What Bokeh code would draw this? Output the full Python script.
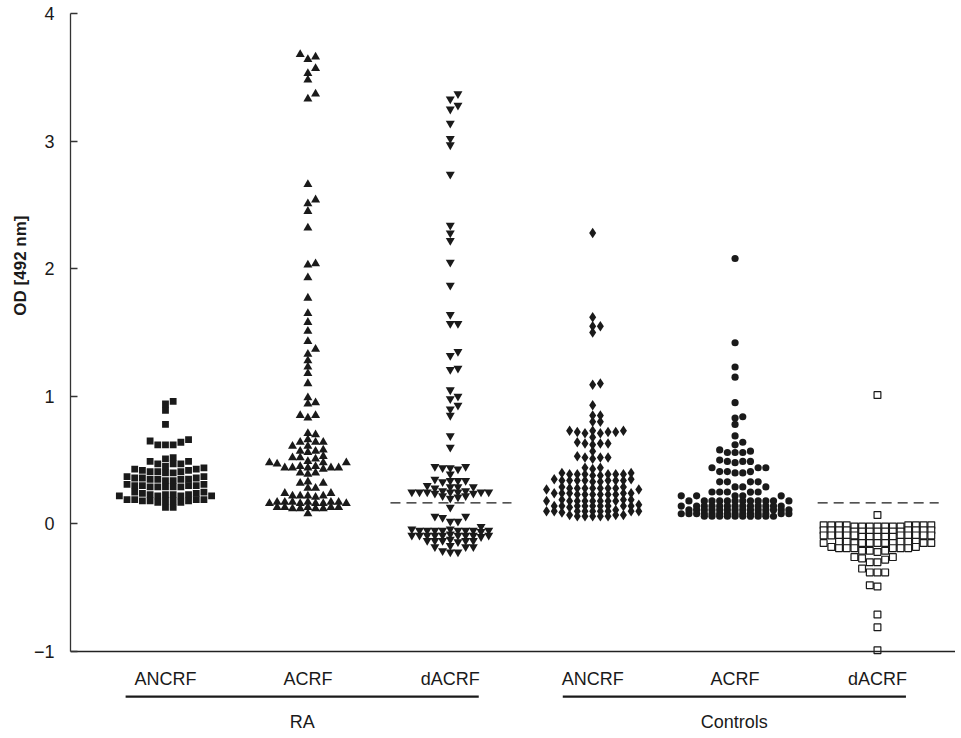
import numpy as np
from bokeh.plotting import figure
from bokeh.models import Range1d, FixedTicker, ColumnDataSource, Title
from bokeh.embed import file_html
from bokeh.resources import INLINE
from bokeh.core.properties import value

# ---------------- data ----------------
categories = ["ANCRF", "ACRF", "dACRF", "ANCRF", "ACRF", "dACRF"]
group_names = ["RA", "Controls"]
group_first = [0, 3]
group_last = [2, 5]
cutoff_value = 0.165
cutoff_columns = [2, 5]
y_ticks = [-1, 0, 1, 2, 3, 4]
y_title = "OD [492 nm]"

ra_ancrf = [0.96, 0.94, 0.89, 0.78,
            0.65, 0.62, 0.62, 0.62, 0.64, 0.66,
            0.51, 0.49, 0.47, 0.47, 0.47, 0.49, 0.52,
            0.45, 0.43, 0.42, 0.41, 0.41, 0.40, 0.40, 0.41, 0.42, 0.43, 0.44,
            0.37, 0.36, 0.35, 0.36, 0.35, 0.34, 0.34, 0.35, 0.35, 0.36, 0.37,
            0.31, 0.30, 0.30, 0.29, 0.29, 0.29, 0.29, 0.29, 0.30, 0.30, 0.31,
            0.25, 0.24, 0.23, 0.23, 0.22, 0.22, 0.22, 0.22, 0.23, 0.23, 0.24, 0.25,
            0.19, 0.19, 0.18, 0.18, 0.18, 0.17, 0.17, 0.18, 0.18, 0.19, 0.19,
            0.13, 0.13]

ra_acrf = [3.68, 3.66, 3.64, 3.57, 3.53, 3.48, 3.37, 3.33,
           2.66, 2.54, 2.51, 2.45, 2.32, 2.04, 2.03, 1.93,
           1.77, 1.65, 1.58, 1.51, 1.43, 1.37, 1.33, 1.28, 1.23, 1.18, 1.10,
           0.99, 0.95, 0.94, 0.85, 0.85, 0.83, 0.71, 0.70,
           0.66, 0.64, 0.61, 0.61, 0.64, 0.64,
           0.57, 0.58, 0.57, 0.56,
           0.52, 0.53, 0.52, 0.51,
           0.48, 0.48, 0.47, 0.48, 0.49,
           0.44, 0.44, 0.45, 0.44, 0.43, 0.44, 0.44, 0.45,
           0.40, 0.40, 0.39,
           0.32, 0.32, 0.33,
           0.28, 0.28,
           0.24, 0.24,
           0.22, 0.22, 0.21, 0.22, 0.22,
           0.17, 0.16, 0.17, 0.16, 0.17, 0.16, 0.17, 0.16, 0.17, 0.16, 0.17,
           0.13, 0.12, 0.13, 0.12, 0.13, 0.12, 0.13, 0.12, 0.13,
           0.08]

ra_dacrf = [3.37, 3.33, 3.28, 3.25, 3.14, 3.02, 2.97, 2.74, 2.34, 2.28, 2.22, 2.05,
            1.87, 1.64, 1.57, 1.57, 1.35, 1.32, 1.22, 1.21, 1.05, 1.00, 0.98, 0.93,
            0.90, 0.85, 0.69, 0.60,
            0.45, 0.44, 0.43, 0.44, 0.45,
            0.39,
            0.34, 0.34, 0.35, 0.34, 0.33,
            0.29, 0.29, 0.30, 0.29, 0.28,
            0.25, 0.25, 0.24, 0.25, 0.26, 0.25, 0.24, 0.25, 0.26, 0.25, 0.25,
            0.22, 0.22, 0.21, 0.20,
            0.13,
            0.06, 0.05, 0.06,
            0.02, 0.02,
            -0.02,
            -0.05, -0.05, -0.04, -0.05, -0.05, -0.05, -0.06, -0.05, -0.05, -0.04, -0.05,
            -0.09, -0.09, -0.09, -0.10, -0.09, -0.09, -0.09, -0.08, -0.09, -0.09, -0.09,
            -0.13, -0.13, -0.14, -0.13, -0.13, -0.12, -0.13,
            -0.18, -0.18, -0.17, -0.18,
            -0.22, -0.22, -0.21]

ctrl_ancrf = [2.28, 1.62, 1.55, 1.55, 1.50, 1.10, 1.09, 0.93,
              0.85, 0.85, 0.80, 0.80, 0.73,
              0.72, 0.71, 0.72, 0.73, 0.72, 0.71, 0.73,
              0.68,
              0.63, 0.62, 0.63, 0.64, 0.63,
              0.57,
              0.52, 0.51, 0.52, 0.53, 0.52,
              0.44, 0.43, 0.44,
              0.39, 0.39, 0.40, 0.39, 0.38, 0.39, 0.39, 0.40, 0.39, 0.38,
              0.34, 0.34, 0.33, 0.34, 0.35, 0.34, 0.34, 0.33, 0.34, 0.35, 0.34,
              0.28, 0.29, 0.28, 0.28, 0.27, 0.28, 0.29, 0.28, 0.28, 0.27, 0.28,
              0.23, 0.24, 0.23, 0.24, 0.23, 0.24, 0.23, 0.24, 0.23, 0.24, 0.23,
              0.18, 0.18, 0.19, 0.18, 0.18, 0.18, 0.19, 0.18, 0.18, 0.18, 0.19,
              0.14, 0.14, 0.14, 0.15, 0.14, 0.14, 0.14, 0.13, 0.14, 0.14, 0.14,
              0.10, 0.10, 0.10, 0.11, 0.10, 0.10, 0.10, 0.09, 0.10, 0.10, 0.10,
              0.06, 0.07, 0.06, 0.06, 0.07, 0.06, 0.06, 0.07]

ctrl_acrf = [2.08, 1.42, 1.23, 1.15, 0.95, 0.84, 0.83, 0.78, 0.69, 0.64, 0.62,
             0.58, 0.56, 0.56, 0.56, 0.57,
             0.49, 0.49, 0.49, 0.48, 0.50,
             0.44, 0.41, 0.41, 0.41, 0.40, 0.40, 0.44, 0.44,
             0.33, 0.33, 0.29, 0.29, 0.29, 0.33, 0.33,
             0.25, 0.25, 0.22, 0.22, 0.22, 0.22, 0.22, 0.25, 0.25, 0.25,
             0.18, 0.18, 0.18, 0.18, 0.18, 0.18, 0.18, 0.18, 0.18, 0.18, 0.18, 0.18,
             0.14, 0.14, 0.14, 0.14, 0.14, 0.14, 0.14, 0.14, 0.14, 0.14, 0.14, 0.14, 0.14,
             0.11, 0.11, 0.11, 0.11, 0.11, 0.11, 0.11, 0.11, 0.11, 0.11, 0.11, 0.11, 0.11, 0.11,
             0.08, 0.08, 0.08, 0.08, 0.08, 0.08, 0.08, 0.08, 0.08, 0.08, 0.08, 0.08, 0.08, 0.08,
             0.06, 0.06, 0.06, 0.06, 0.06, 0.06, 0.06, 0.06, 0.06, 0.06]

ctrl_dacrf = [1.01, 0.07,
              -0.01, -0.02, -0.01, -0.02, -0.01, -0.02, -0.01, -0.02, -0.01, -0.02, -0.01, -0.02, -0.01, -0.02, -0.01,
              -0.05, -0.06, -0.05, -0.06, -0.05, -0.06, -0.05, -0.06, -0.05, -0.06, -0.05, -0.06, -0.05, -0.06, -0.05,
              -0.09, -0.09, -0.10, -0.09, -0.09, -0.10, -0.09, -0.09, -0.10, -0.09, -0.09, -0.10, -0.09, -0.09, -0.10,
              -0.15, -0.14, -0.15, -0.15, -0.14, -0.15, -0.15, -0.14, -0.15, -0.15, -0.14, -0.15, -0.15, -0.14,
              -0.19, -0.19, -0.18, -0.19, -0.19, -0.18, -0.19, -0.19,
              -0.21, -0.21, -0.22, -0.21,
              -0.26, -0.26, -0.27, -0.28, -0.30, -0.30, -0.35,
              -0.38, -0.38, -0.38,
              -0.48, -0.49, -0.71, -0.81, -0.99]

series = [ra_ancrf, ra_acrf, ra_dacrf, ctrl_ancrf, ctrl_acrf, ctrl_dacrf]

# ---------------- swarm layout (column grid, Prism-like) ----------------
COL_DX = 0.054          # column pitch in x units (~7.7 px)
ROW_MIN = 0.05          # vertical clearance inside a column (y units)
half_widths = [6, 5, 5, 6, 7, 7]   # max columns each side, per category


def swarm_offsets(vals, half, prefer_left=False):
    order = np.argsort(vals, kind="stable")
    placed = {}
    offs = np.zeros(len(vals))
    cands = [0]
    for k in range(1, half + 1):
        cands += ([-k, k] if prefer_left else [k, -k])
    for i in order:
        y = vals[i]
        best, best_d = None, -1.0
        for c in cands:
            ys = placed.get(c, [])
            d = min([abs(y - yy) for yy in ys], default=10.0)
            if d >= ROW_MIN - 1e-9:
                best = c
                break
            if d > best_d + 1e-9:
                best, best_d = c, d
        placed.setdefault(best, []).append(y)
        offs[i] = best * COL_DX
    return offs


FONT = "Liberation Sans"
INK = "#1a1a1a"

p = figure(width=955, height=735,
           x_range=Range1d(-0.667, 5.548), y_range=Range1d(-1.658, 4.0),
           output_backend="svg", toolbar_location=None,
           min_border_left=70, min_border_right=0, min_border_top=13, min_border_bottom=0)
p.outline_line_color = None
p.grid.grid_line_color = None
p.background_fill_color = "white"

# y axis
ya = p.yaxis[0]
ya.ticker = FixedTicker(ticks=y_ticks)
ya.bounds = (-1, 4)
ya.major_label_overrides = {t: ("\u2212" + str(-t) if t < 0 else str(t)) for t in y_ticks}
ya.major_tick_in = 7
ya.major_tick_out = 0
ya.minor_tick_line_color = None
ya.major_label_standoff = 16
ya.major_label_text_font = FONT
ya.major_label_text_font_size = "18px"
ya.major_label_text_color = INK
ya.axis_line_color = "#333333"
ya.axis_line_width = 1.3
ya.major_tick_line_color = "#333333"
ya.major_tick_line_width = 1.3

# y title as a left-side title, its top end placed ~202 px below the frame top
p.add_layout(Title(text=y_title, align="right", offset=202, standoff=0,
                   vertical_align="middle",
                   text_font=FONT, text_font_size="17px", text_font_style="bold",
                   text_color=INK), "left")

# x axis fixed at y = -1
xa = p.xaxis[0]
xa.fixed_location = -1
xa.ticker = FixedTicker(ticks=list(range(len(categories))))
xa.major_label_overrides = {i: c for i, c in enumerate(categories)}
xa.major_tick_line_color = None
xa.minor_tick_line_color = None
xa.major_label_standoff = 11
xa.major_label_text_font = FONT
xa.major_label_text_font_size = "18px"
xa.major_label_text_color = INK
xa.axis_line_color = "#222222"
xa.axis_line_width = 1.4

# markers per column
styles = [
    dict(marker="square", size=6.8, fill_color=INK, line_color=None),
    dict(marker="triangle", size=9, fill_color=INK, line_color=None),
    dict(marker="inverted_triangle", size=9, fill_color=INK, line_color=None),
    dict(marker="diamond", size=10.5, fill_color=INK, line_color=None),
    dict(marker="circle", size=7.2, fill_color=INK, line_color=None),
    dict(marker="square", size=6.8, fill_color="white", line_color=INK, line_width=1.2),
]
left_first = [False, False, False, False, False, True]

for ci, vals in enumerate(series):
    v = np.array(vals, dtype=float)
    xs = ci + swarm_offsets(v, half_widths[ci], left_first[ci])
    src = ColumnDataSource(dict(x=xs, y=v))
    p.scatter("x", "y", source=src, **styles[ci])

# cutoff lines
cut_x0 = [c - 0.42 for c in cutoff_columns]
cut_x1 = [c + 0.43 for c in cutoff_columns]
p.segment(x0=cut_x0, y0=[cutoff_value] * len(cutoff_columns),
          x1=cut_x1, y1=[cutoff_value] * len(cutoff_columns),
          line_color=INK, line_width=1.2, line_dash="10 6")

# group brackets and labels
bx0 = [group_first[0] - 0.28, group_first[1] - 0.21]
bx1 = [group_last[0] + 0.20, group_last[1] + 0.20]
by = -1.353
p.segment(x0=bx0, y0=[by, by], x1=bx1, y1=[by, by], line_color=INK, line_width=2.2)
p.text(x=[(a + b) / 2 for a, b in zip(bx0, bx1)], y=[-1.556, -1.556], text=group_names,
       text_align="center", text_baseline="middle",
       text_font=value(FONT), text_font_size="18px", text_color=INK)

open("out.html", "w").write(file_html(p, INLINE))
